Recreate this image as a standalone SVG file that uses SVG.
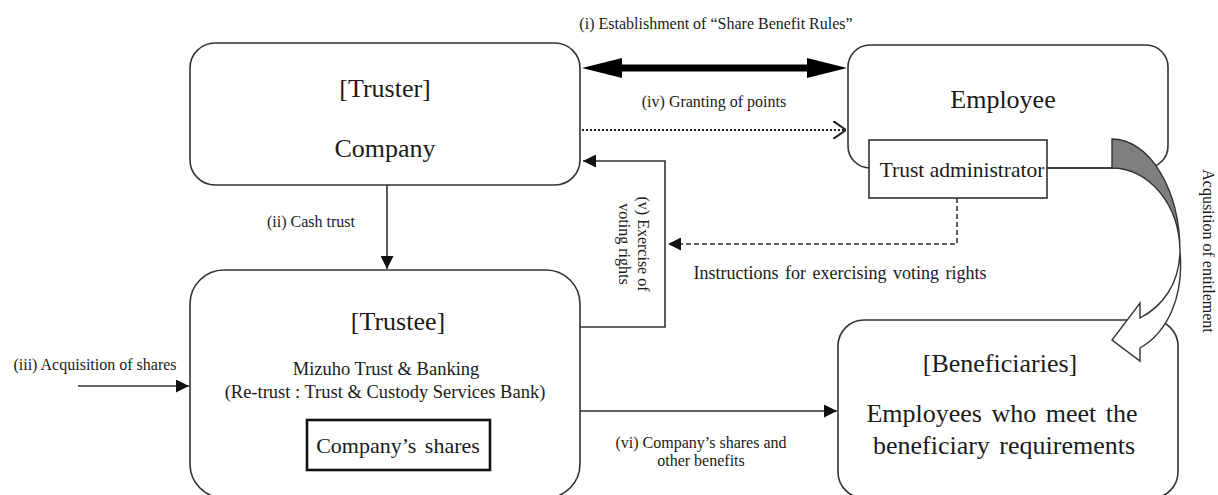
<svg xmlns="http://www.w3.org/2000/svg" width="1218" height="495" viewBox="0 0 1218 495">
<defs>
<style>
text{font-family:"Liberation Serif","Times New Roman",serif;fill:#1a1a1a}
.box{fill:#fff;stroke:#333;stroke-width:1.6}
.ln{fill:none;stroke:#333;stroke-width:1.6}
.t26{font-size:26px;text-anchor:middle}
.t18{font-size:18.5px;text-anchor:middle}
.s{font-size:16px;text-anchor:middle}
</style>
<marker id="tri" viewBox="0 0 10 10" refX="10" refY="5" markerWidth="13" markerHeight="13" markerUnits="userSpaceOnUse" orient="auto">
<path d="M0,0 L10,5 L0,10 Z" fill="#111"/>
</marker>
<marker id="open" viewBox="0 0 10 14" refX="10" refY="7" markerWidth="13" markerHeight="18" markerUnits="userSpaceOnUse" orient="auto">
<path d="M0,0 L10,7 L0,14" fill="none" stroke="#222" stroke-width="1.6"/>
</marker>
</defs>
<rect width="1218" height="495" fill="#fff"/>

<g id="truster">
<rect class="box" x="190" y="43" width="390" height="142" rx="25"/>
<text class="t26" x="385" y="97">[Truster]</text>
<text class="t26" x="385" y="157">Company</text>
</g>

<g id="employee">
<rect class="box" x="848" y="45" width="320" height="123" rx="22"/>
<text class="t26" x="1003" y="108">Employee</text>
</g>

<g id="trust-administrator">
<rect class="box" x="869" y="140" width="178" height="58"/>
<text x="962" y="177" style="font-size:21.5px;text-anchor:middle">Trust administrator</text>
</g>

<g id="trustee">
<rect class="box" x="190" y="270" width="390" height="228" rx="34"/>
<text class="t26" x="398" y="330">[Trustee]</text>
<text class="t18" x="386" y="375">Mizuho  Trust &amp; Banking</text>
<text class="t18" x="385" y="398">(Re-trust : Trust &amp; Custody Services Bank)</text>
</g>

<g id="company-shares">
<rect x="307" y="420" width="183" height="50" fill="#fff" stroke="#111" stroke-width="2.6"/>
<text x="398" y="453" style="font-size:22px;text-anchor:middle;word-spacing:3px">Company’s shares</text>
</g>

<g id="beneficiaries">
<rect class="box" x="838" y="320" width="340" height="178" rx="26"/>
<text class="t26" x="1000" y="372">[Beneficiaries]</text>
<text class="t26" x="1002" y="422" style="word-spacing:3px">Employees who meet the</text>
<text class="t26" x="1004" y="454" style="word-spacing:3px">beneficiary requirements</text>
</g>

<g id="connectors">
<!-- (i) double arrow -->
<polygon points="582,68 622,58 622,64.5 807,64.5 807,58 847,68 807,78 807,71.5 622,71.5 622,78" fill="#000"/>
<!-- (iv) dotted -->
<line x1="582" y1="130" x2="846" y2="130" stroke="#222" stroke-width="1.8" stroke-dasharray="2,2" marker-end="url(#open)"/>
<!-- (ii) cash trust -->
<line class="ln" x1="387" y1="185" x2="387" y2="269" marker-end="url(#tri)"/>
<!-- (v) voting rights -->
<polyline class="ln" points="580,327 665,327 665,161 583,161" marker-end="url(#tri)"/>
<!-- instructions dashed -->
<polyline points="957,198 957,244 668,244" fill="none" stroke="#333" stroke-width="1.6" stroke-dasharray="5,3" marker-end="url(#tri)"/>
<!-- (iii) acquisition -->
<line class="ln" x1="78" y1="386" x2="189" y2="386" marker-end="url(#tri)"/>
<!-- (vi) -->
<line class="ln" x1="580" y1="411" x2="837" y2="411" marker-end="url(#tri)"/>
<!-- trust admin to curved arrow -->
<line class="ln" x1="1047" y1="168" x2="1112" y2="168"/>
<!-- curved arrow back (gray) -->
<path d="M1112,139 A68,113 0 0 1 1180,252 A68,84 0 0 0 1112,168 Z" fill="#7f7f7f" stroke="#333" stroke-width="1.4"/>
<!-- curved arrow front (white) -->
<path d="M1180,252 C1179,284 1163,306 1140,318 L1140,303 L1112,340 L1140,361 L1140,348 C1168,332 1184,296 1180,252 Z" fill="#fff" stroke="#333" stroke-width="1.4"/>
</g>

<g id="labels">
<text class="s" x="716" y="29">(i) Establishment of “Share Benefit Rules”</text>
<text class="s" x="714" y="107">(iv) Granting of points</text>
<text class="s" x="311" y="227">(ii) Cash trust</text>
<text class="s" x="95" y="370">(iii) Acquisition of shares</text>
<text class="s" x="701" y="448">(vi) Company’s shares and</text>
<text class="s" x="701" y="466">other benefits</text>
<text x="840" y="279" style="font-size:18px;text-anchor:middle;word-spacing:2px">Instructions for exercising voting rights</text>
<text class="s" x="638" y="244" transform="rotate(90 638 244)">(v) Exercise of</text>
<text class="s" x="619" y="244" transform="rotate(90 619 244)">voting rights</text>
<text class="s" x="1203" y="251" transform="rotate(90 1203 251)">Acqusition of entitlement</text>
</g>
</svg>
